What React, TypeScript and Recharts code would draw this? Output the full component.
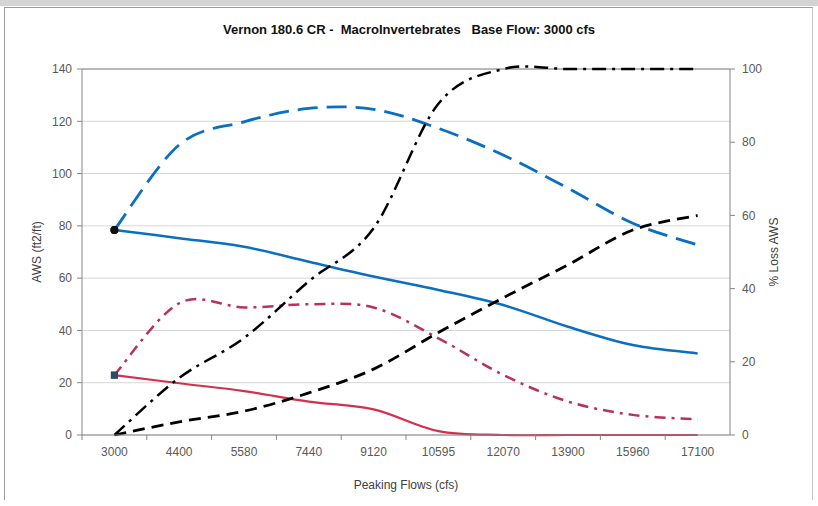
import { LineChart, Line, XAxis, YAxis, CartesianGrid, ReferenceLine } from 'recharts';

// peaking flow categories (cfs)
const categories = ['3000', '4400', '5580', '7440', '9120', '10595', '12070', '13900', '15960', '17100'];

// AWS (ft2/ft), left axis
const awsBlue = [78.4, 75.3, 72, 66.3, 60.6, 55.5, 49.7, 41.4, 34.4, 31.2];
const awsBlueDash = [78.4, 111, 119.8, 124.9, 124.6, 117.3, 107.1, 94.4, 81, 72.7];
const awsRed = [22.9, 19.8, 16.8, 12.8, 9.8, 1.5, 0, 0, 0, 0];
const awsRedDash = [22.9, 50.4, 48.8, 50, 48.8, 37, 23, 12.8, 7.7, 6];

// % Loss AWS, right axis
const lossDashDot = [0, 15.6, 26.5, 42, 56.5, 90.5, 100, 100, 100, 100];
const lossDash = [0, 3.6, 6.5, 11.5, 18, 28, 37.5, 46.5, 56, 60];

const leftTicks = [0, 20, 40, 60, 80, 100, 120, 140];
const rightTicks = [0, 20, 40, 60, 80, 100];

const data = categories.map((flow, i) => ({
  flow,
  awsBlue: awsBlue[i],
  awsBlueDash: awsBlueDash[i],
  awsRed: awsRed[i],
  awsRedDash: awsRedDash[i],
  lossDashDot: lossDashDot[i],
  lossDash: lossDash[i],
}));

const W = 818;
const H = 506;
const PLOT_LEFT = 82;
const PLOT_RIGHT = 730;
const PLOT_TOP = 69;
const PLOT_BOTTOM = 435;
const HALF_BAND = (PLOT_RIGHT - PLOT_LEFT) / categories.length / 2;

const axisColor = '#868686';
const tickStyle = { fontSize: 12, fill: '#595959', fontFamily: '"Liberation Sans", Arial, sans-serif' };

// Excel-style smoothed line (Catmull-Rom bezier through every point)
const excelSmooth = (context: any) => {
  let pts: number[][] = [];
  return {
    areaStart() {},
    areaEnd() {},
    lineStart() {
      pts = [];
    },
    point(x: number, y: number) {
      pts.push([+x, +y]);
    },
    lineEnd() {
      if (!pts.length) return;
      context.moveTo(pts[0][0], pts[0][1]);
      for (let i = 0; i < pts.length - 1; i++) {
        const p0 = pts[i - 1] || pts[i];
        const p1 = pts[i];
        const p2 = pts[i + 1];
        const p3 = pts[i + 2] || p2;
        context.bezierCurveTo(
          p1[0] + (p2[0] - p0[0]) / 6,
          p1[1] + (p2[1] - p0[1]) / 6,
          p2[0] - (p3[0] - p1[0]) / 6,
          p2[1] - (p3[1] - p1[1]) / 6,
          p2[0],
          p2[1]
        );
      }
    },
  };
};

const FlowTick = (props: any) => {
  const { x, y, payload } = props;
  return (
    <g>
      <line x1={x - HALF_BAND} x2={x - HALF_BAND} y1={PLOT_BOTTOM} y2={PLOT_BOTTOM + 5} stroke={axisColor} />
      <text x={x} y={y + 4} dy="0.71em" textAnchor="middle" {...tickStyle}>
        {payload.value}
      </text>
    </g>
  );
};

const firstCircle = (props: any) => {
  const { cx, cy, index } = props;
  if (index !== 0) return <g key={`c${index}`} />;
  return <circle key={`c${index}`} cx={cx} cy={cy} r={4} fill="#111" />;
};

const firstSquare = (props: any) => {
  const { cx, cy, index } = props;
  if (index !== 0) return <g key={`s${index}`} />;
  return <rect key={`s${index}`} x={cx - 3.5} y={cy - 3.5} width={7} height={7} fill="#2c4a6a" />;
};

export default function App() {
  return (
    <div style={{ position: 'absolute', left: 0, top: 0, width: W, height: H, background: '#fff', fontFamily: '"Liberation Sans", Arial, sans-serif' }}>
      <div style={{ position: 'absolute', left: 0, top: 0, width: W, height: 6, background: '#d4d4d4' }} />
      <div style={{ position: 'absolute', left: 4, top: 7, width: 807, height: 492, borderLeft: '1px solid #9a9a9a', borderTop: '1px solid #9a9a9a', borderRight: '1px solid #c8c8c8' }} />
      <div style={{ position: 'absolute', left: 0, top: 22, width: W, textAlign: 'center', fontSize: 13, fontWeight: 'bold', color: '#111', whiteSpace: 'pre' }}>
        {'Vernon 180.6 CR -  MacroInvertebrates   Base Flow: 3000 cfs'}
      </div>
      <div style={{ position: 'absolute', left: 0, top: 0 }}>
        <LineChart width={W} height={H} data={data} margin={{ top: PLOT_TOP, right: 0, bottom: 11, left: 0 }}>
          <CartesianGrid yAxisId="left" vertical={false} stroke="#d6d6d6" />
          <XAxis
            dataKey="flow"
            interval={0}
            height={60}
            padding={{ left: HALF_BAND, right: HALF_BAND }}
            tickLine={false}
            tick={<FlowTick />}
            axisLine={{ stroke: axisColor }}
            label={{ value: 'Peaking Flows (cfs)', position: 'insideBottom', offset: 6, style: { fontSize: 12, fill: '#404040' } }}
          />
          <YAxis
            yAxisId="left"
            domain={[0, 140]}
            ticks={leftTicks}
            width={PLOT_LEFT}
            tickSize={5}
            tickMargin={5}
            tick={tickStyle}
            tickLine={{ stroke: axisColor }}
            axisLine={{ stroke: axisColor }}
            label={{ value: 'AWS (ft2/ft)', angle: -90, position: 'center', dx: -4, style: { fontSize: 12, fill: '#404040' } }}
          />
          <YAxis
            yAxisId="right"
            orientation="right"
            domain={[0, 100]}
            ticks={rightTicks}
            width={W - PLOT_RIGHT}
            tickSize={5}
            tickMargin={7}
            tick={tickStyle}
            tickLine={{ stroke: axisColor }}
            axisLine={{ stroke: axisColor }}
            label={{ value: '% Loss AWS', angle: -90, position: 'center', dx: 0, style: { fontSize: 12, fill: '#404040' } }}
          />
          <ReferenceLine yAxisId="left" y={140} stroke={axisColor} />
          <Line yAxisId="left" type={excelSmooth as any} dataKey="awsBlue" stroke="#0a6fc2" strokeWidth={2.5} dot={firstCircle} activeDot={false} isAnimationActive={false} />
          <Line yAxisId="left" type={excelSmooth as any} dataKey="awsBlueDash" stroke="#0a6fc2" strokeWidth={2.8} strokeDasharray="20 9" dot={firstCircle} activeDot={false} isAnimationActive={false} />
          <Line yAxisId="left" type={excelSmooth as any} dataKey="awsRed" stroke="#d2304f" strokeWidth={2.2} dot={firstSquare} activeDot={false} isAnimationActive={false} />
          <Line yAxisId="left" type={excelSmooth as any} dataKey="awsRedDash" stroke="#b8325a" strokeWidth={2.5} strokeDasharray="11 6 3 6" dot={firstSquare} activeDot={false} isAnimationActive={false} />
          <Line yAxisId="right" type={excelSmooth as any} dataKey="lossDashDot" stroke="#000" strokeWidth={2.5} strokeDasharray="14 6 3 6" dot={false} activeDot={false} isAnimationActive={false} />
          <Line yAxisId="right" type={excelSmooth as any} dataKey="lossDash" stroke="#000" strokeWidth={2.8} strokeDasharray="12 7" dot={false} activeDot={false} isAnimationActive={false} />
        </LineChart>
      </div>
    </div>
  );
}
